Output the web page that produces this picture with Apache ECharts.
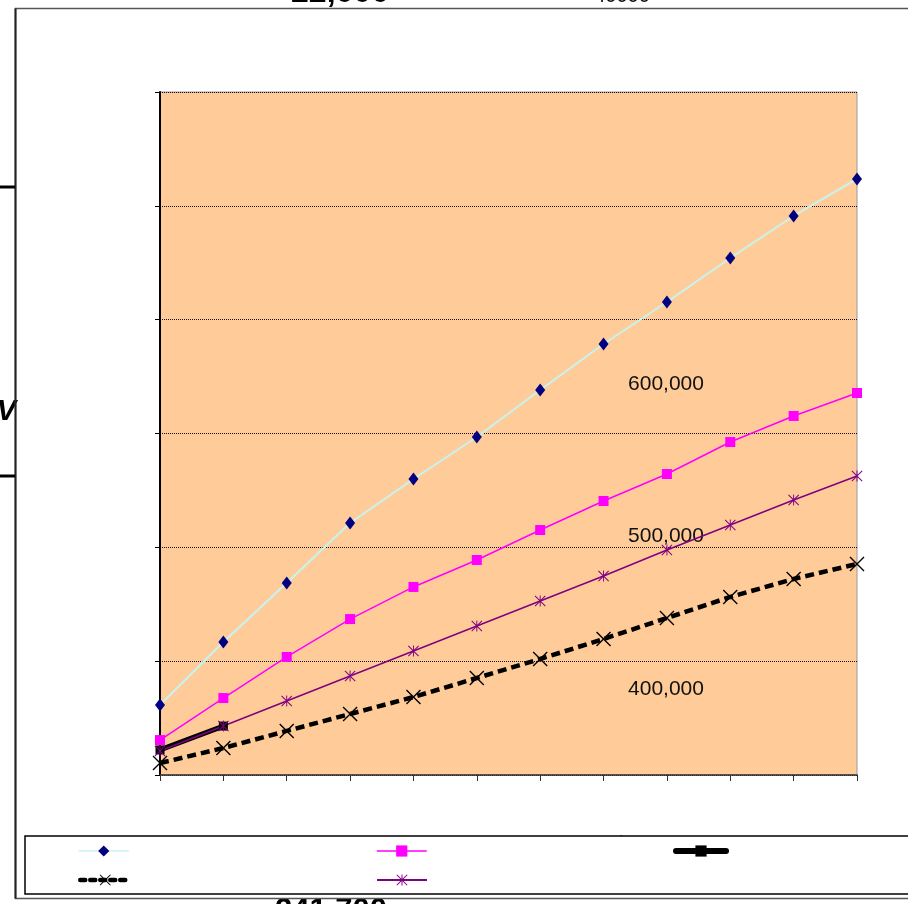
<!DOCTYPE html>
<html>
<head>
<meta charset="utf-8">
<script src="https://cdn.jsdelivr.net/npm/echarts@6/dist/echarts.min.js"></script>
<style>
  html, body { margin: 0; padding: 0; background: #ffffff; }
  #chart { width: 908px; height: 904px; }
</style>
</head>
<body>
<div id="chart"></div>
<script>
// Twelve periods along the horizontal axis
const categories = ['1', '2', '3', '4', '5', '6', '7', '8', '9', '10', '11', '12'];

// Series values (index units, axis 0-600)
const seriesA = [61.5, 116.8, 168.7, 221.4, 260.0, 296.9, 338.2, 378.6, 415.5, 454.2, 491.1, 523.6];
const seriesB = [30.7, 67.6, 103.7, 137.0, 165.2, 188.9, 215.2, 240.7, 264.4, 292.5, 315.4, 335.6];
const seriesC = [22.0, 43.0, null, null, null, null, null, null, null, null, null, null];
const seriesD = [10.5, 23.7, 38.7, 53.6, 68.5, 85.2, 101.9, 119.5, 137.9, 156.4, 172.2, 185.4];
const seriesE = [21.1, 43.0, 65.0, 87.0, 108.9, 130.9, 152.9, 174.8, 197.7, 219.6, 241.6, 262.7];

// Value axis range
const yMin = 0;
const yMax = 600;
const yStep = 100;

// Loose text labels placed on the sheet
const plotLabels = ['600,000', '500,000', '400,000'];
const topLabelBig = '22,000';
const topLabelSmall = '40000';
const bottomLabelBig = '241,700';
const legendEdgeLabel = '$600,000';

const FONT = '"Liberation Sans", Arial, sans-serif';

// Thin X marker and asterisk marker as filled outlines
const crossPath = 'path://M0,0.9L0.9,0L7,6.1L13.1,0L14,0.9L7.9,7L14,13.1L13.1,14L7,7.9L0.9,14L0,13.1L6.1,7Z';
const starPath = 'path://M0,0.9L0.9,0L7,6.1L13.1,0L14,0.9L7.9,7L14,13.1L13.1,14L7,7.9L0.9,14L0,13.1L6.1,7Z' +
                 'M6.4,0L7.6,0L7.6,14L6.4,14Z';

const chart = echarts.init(document.getElementById('chart'), null, { renderer: 'canvas' });

function legendAt(name, left, top, lineStyle) {
  return {
    data: [name],
    left: left,
    top: top,
    orient: 'horizontal',
    itemWidth: 50,
    itemHeight: 14,
    formatter: () => '',
    textStyle: { fontSize: 1 },
    selectedMode: false,
    padding: 0,
    lineStyle: lineStyle
  };
}

const option = {
  animation: false,
  backgroundColor: '#ffffff',
  grid: {
    left: 160, top: 92, right: 51, bottom: 129,
    show: true,
    backgroundColor: '#FFCC99',
    borderColor: '#999999',
    borderWidth: 1
  },
  xAxis: {
    type: 'category',
    data: categories,
    boundaryGap: false,
    axisLine: { lineStyle: { color: '#333333', width: 1.5 } },
    axisTick: { show: true, length: 6, interval: 0, lineStyle: { color: '#333333' } },
    axisLabel: { show: false },
    splitLine: { show: false }
  },
  yAxis: {
    type: 'value',
    min: yMin, max: yMax, interval: yStep,
    axisLine: { show: true, lineStyle: { color: '#000000', width: 2 } },
    axisTick: { show: true, length: 5, lineStyle: { color: '#000000' } },
    axisLabel: { show: false },
    splitLine: { show: true, lineStyle: { color: '#111111', width: 1, type: [1, 1] } }
  },
  legend: [
    legendAt('Series A', 78, 844, { width: 1.5 }),
    legendAt('Series B', 376, 844, { width: 1.5 }),
    legendAt('Series C', 673, 844, { width: 6, cap: 'round' }),
    legendAt('Series D', 78, 873, { width: 4.5, type: [5, 5], cap: 'round' }),
    legendAt('Series E', 376, 873, { width: 2 })
  ],
  series: [
    {
      name: 'Series A', type: 'line', data: seriesA,
      symbol: 'diamond', symbolSize: [10, 13],
      itemStyle: { color: '#000080' },
      lineStyle: { color: '#C8F4F0', width: 2 }
    },
    {
      name: 'Series B', type: 'line', data: seriesB,
      symbol: 'rect', symbolSize: 10,
      itemStyle: { color: '#FF00FF' },
      lineStyle: { color: '#FF00FF', width: 1.5 }
    },
    {
      name: 'Series C', type: 'line', data: seriesC,
      symbol: 'rect', symbolSize: 9,
      itemStyle: { color: '#000000' },
      lineStyle: { color: '#000000', width: 5, cap: 'round' }
    },
    {
      name: 'Series D', type: 'line', data: seriesD,
      symbol: crossPath, symbolSize: 15,
      itemStyle: { color: '#000000' },
      lineStyle: { color: '#000000', width: 4.5, type: [9, 5] }
    },
    {
      name: 'Series E', type: 'line', data: seriesE,
      symbol: starPath, symbolSize: 11,
      itemStyle: { color: '#800080' },
      lineStyle: { color: '#800080', width: 1.5 }
    }
  ],
  graphic: [
    // loose labels inside the plot
    ...plotLabels.map((t, i) => ({
      type: 'text', z: 1, x: 666, y: [384, 536, 689][i],
      style: { text: t, font: '21px ' + FONT, fill: '#111111', align: 'center', verticalAlign: 'middle' }
    })),
    // clipped labels along the sheet edges
    {
      type: 'text', z: 1, x: 340, y: -7,
      style: { text: topLabelBig, font: 'bold 32px ' + FONT, fill: '#000000', align: 'center', verticalAlign: 'middle' }
    },
    {
      type: 'text', z: 1, x: 622, y: -4,
      style: { text: topLabelSmall, font: '20px ' + FONT, fill: '#000000', align: 'center', verticalAlign: 'middle' }
    },
    {
      type: 'text', z: 1, x: 331, y: 911,
      style: { text: bottomLabelBig, font: 'bold 31px ' + FONT, fill: '#000000', align: 'center', verticalAlign: 'middle' }
    },
    {
      type: 'text', z: 2, x: 659, y: 844,
      style: { text: legendEdgeLabel, font: '21px ' + FONT, fill: '#000000', align: 'center', verticalAlign: 'middle' }
    },
    // legend frame
    {
      type: 'rect', z: 3,
      shape: { x: 25, y: 836, width: 900, height: 58 },
      style: { fill: '#ffffff', stroke: '#000000', lineWidth: 1.5 }
    },
    // sheet frame
    {
      type: 'rect', z: 5,
      shape: { x: 15.5, y: 8.5, width: 920, height: 890 },
      style: { fill: null, stroke: '#555555', lineWidth: 1.5 }
    },
    {
      type: 'line', z: 5,
      shape: { x1: 15.5, y1: 8.5, x2: 15.5, y2: 898.5 },
      style: { stroke: '#222222', lineWidth: 2 }
    },
    // marks left of the frame
    {
      type: 'line', z: 5,
      shape: { x1: 0, y1: 187, x2: 15, y2: 187 },
      style: { stroke: '#000000', lineWidth: 3 }
    },
    {
      type: 'line', z: 5,
      shape: { x1: 0, y1: 476, x2: 15, y2: 476 },
      style: { stroke: '#000000', lineWidth: 3 }
    },
    {
      type: 'text', z: 4, x: 16, y: 412,
      style: { text: 'V', font: 'italic bold 29px ' + FONT, fill: '#000000', align: 'right', verticalAlign: 'middle' }
    }
  ]
};

chart.setOption(option);
</script>
</body>
</html>
